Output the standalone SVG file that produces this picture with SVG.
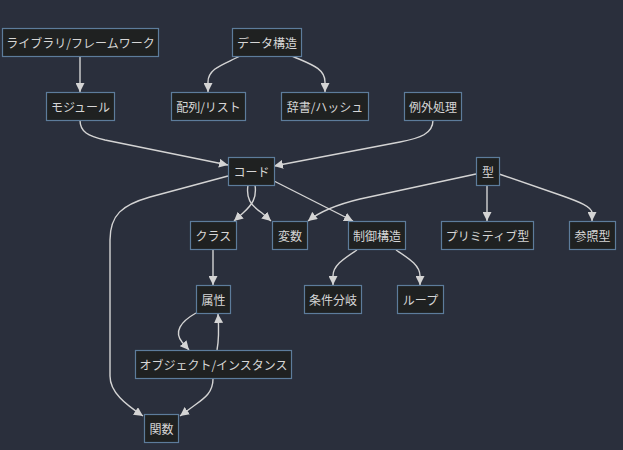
<svg xmlns="http://www.w3.org/2000/svg" width="623" height="450" viewBox="0 0 623 450">
<style>
.bg{fill:#2a2f3c}
.node rect{fill:#1f2121;stroke:#5d7c9b;stroke-width:1.2}
.node text{fill:#d6d6d6;font-family:"Noto Sans CJK JP","Noto Sans",sans-serif;font-size:12px;text-anchor:middle;dominant-baseline:central}
.edges path{fill:none;stroke:#d4d4d4;stroke-width:1.4}
</style>
<defs>
<marker id="arr" viewBox="0 0 10 10" refX="10" refY="5" markerWidth="9" markerHeight="9" markerUnits="userSpaceOnUse" orient="auto">
<path d="M0,0 L10,5 L0,10 z" fill="#d4d4d4"/>
</marker>
</defs>
<rect class="bg" x="0" y="0" width="623" height="450"/>
<g class="edges" marker-end="url(#arr)">
<path d="M80,56 L80,92"/>
<path d="M240,56 C225,64 208,68 208,82 L208,92"/>
<path d="M292,56 C310,64 325,68 325,82 L325,92"/>
<path d="M80,120 C80,132 88,136 105,140 L228,165"/>
<path d="M433,120 C433,134 420,138 400,142 L274,166"/>
<path d="M228,176 L150,197 C122,205 110,215 110,240 L110,376 C110,392 125,404 143,416"/>
<path d="M248,185 C246,198 250,205 262,213 L271,221"/>
<path d="M255,185 C257,198 252,205 243,213 L234,221"/>
<path d="M274,181 L353,221"/>
<path d="M476,174 L360,199 C335,205 318,213 308,221"/>
<path d="M487,185 L487,221"/>
<path d="M499,174 L560,195 C580,202 592,207 592,213 L592,221"/>
<path d="M213,250 L213,285"/>
<path d="M357,250 C345,258 333,265 333,276 L333,285"/>
<path d="M396,250 C408,258 420,265 420,276 L420,285"/>
<path d="M196,313 C180,322 174,332 182,342 L189,350"/>
<path d="M217,350 C219,340 219,330 218,314"/>
<path d="M213,379 C213,392 205,398 195,405 L180,416"/>
</g>
<g id="n-lib" class="node"><rect x="2.5" y="28.5" width="156" height="28"/><text x="80.5" y="42.5">ライブラリ/フレームワーク</text></g>
<g id="n-ds" class="node"><rect x="232.5" y="28.5" width="69" height="28"/><text x="267" y="42.5">データ構造</text></g>
<g id="n-mod" class="node"><rect x="46.5" y="92.5" width="68" height="28"/><text x="80.5" y="106.5">モジュール</text></g>
<g id="n-arr" class="node"><rect x="171.5" y="92.5" width="74" height="28"/><text x="208.5" y="106.5">配列/リスト</text></g>
<g id="n-dict" class="node"><rect x="281.5" y="92.5" width="87" height="28"/><text x="325" y="106.5">辞書/ハッシュ</text></g>
<g id="n-exc" class="node"><rect x="404.5" y="92.5" width="57" height="28"/><text x="433" y="106.5">例外処理</text></g>
<g id="n-code" class="node"><rect x="228.5" y="157.5" width="46" height="28"/><text x="251.5" y="171.5">コード</text></g>
<g id="n-type" class="node"><rect x="476.5" y="157.5" width="23" height="28"/><text x="488" y="171.5">型</text></g>
<g id="n-class" class="node"><rect x="190.5" y="221.5" width="46" height="28"/><text x="213.5" y="235.5">クラス</text></g>
<g id="n-var" class="node"><rect x="272.5" y="221.5" width="35" height="28"/><text x="290" y="235.5">変数</text></g>
<g id="n-ctrl" class="node"><rect x="348.5" y="221.5" width="57" height="28"/><text x="377" y="235.5">制御構造</text></g>
<g id="n-prim" class="node"><rect x="441.5" y="221.5" width="92" height="28"/><text x="487.5" y="235.5">プリミティブ型</text></g>
<g id="n-ref" class="node"><rect x="569.5" y="221.5" width="46" height="28"/><text x="592.5" y="235.5">参照型</text></g>
<g id="n-attr" class="node"><rect x="196.5" y="285.5" width="34" height="28"/><text x="213.5" y="299.5">属性</text></g>
<g id="n-cond" class="node"><rect x="304.5" y="285.5" width="57" height="28"/><text x="333" y="299.5">条件分岐</text></g>
<g id="n-loop" class="node"><rect x="397.5" y="285.5" width="46" height="28"/><text x="420.5" y="299.5">ループ</text></g>
<g id="n-obj" class="node"><rect x="135.5" y="350.5" width="156" height="28"/><text x="213.5" y="364.5">オブジェクト/インスタンス</text></g>
<g id="n-func" class="node"><rect x="144.5" y="414.5" width="34" height="28"/><text x="161.5" y="428.5">関数</text></g>
</svg>
